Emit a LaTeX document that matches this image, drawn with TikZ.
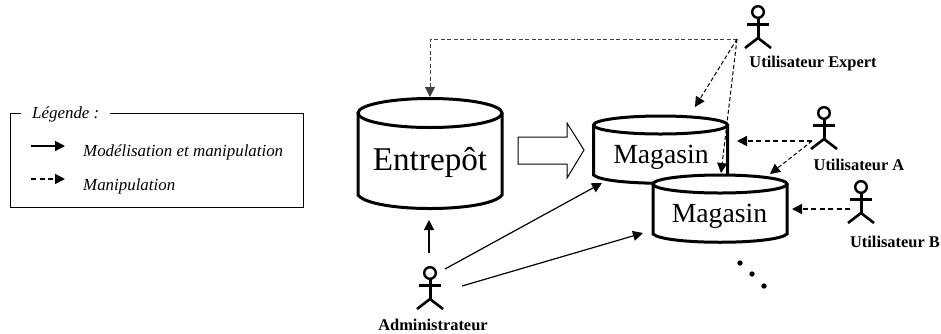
\documentclass[tikz,border=0pt]{standalone}
\usepackage{fontspec}
\setmainfont{Liberation Serif}
\usetikzlibrary{arrows.meta}

\tikzset{
    fleche/.style={line width=1.2pt, -{Triangle[length=10pt,width=10pt]}},
    pointille/.style={fleche, line width=1.6pt, dash pattern=on 5pt off 3.5pt},
    pointillefin/.style={fleche, line width=1pt, dash pattern=on 4pt off 2.5pt},
    acteurnom/.style={font=\fontsize{16.4}{19}\bfseries\selectfont, inner sep=0pt},
    legendetxt/.style={font=\fontsize{16.9}{19}\itshape\selectfont, inner sep=0pt, anchor=west},
    acteur/.pic={
        \draw[line width=2.4pt] (0,-12) circle (5.8);
        \draw[line width=3pt] (0,-6) -- (0,14);
        \draw[line width=3pt] (-11,0) -- (11,0);
        \draw[line width=2.6pt] (-13,24) -- (0,14) -- (13,24);
    },
    magasin/.pic={
        \draw[line width=3pt, fill=white] (-67,-24) -- (-67,26)
            .. controls (-55,37) and (55,37) .. (67,26) -- (67,-24);
        \draw[line width=3pt, fill=white] (0,-24) ellipse (67 and 9);
    }
}

\begin{document}
\begin{tikzpicture}[x=1pt,y=-1pt]
    \useasboundingbox (0,0) rectangle (941,333);

    \coordinate (Exp) at (737, 39);
    \coordinate (ExpCoude) at (430, 39);
    \coordinate (EntHaut) at (430, 97);
    \coordinate (M1Haut) at (695, 107);
    \coordinate (M2HautA) at (721, 173);
    \coordinate (A1) at (812, 141);
    \coordinate (M1Droite) at (737, 141);
    \coordinate (M2HautB) at (770, 174);
    \coordinate (B1) at (850, 209);
    \coordinate (M2Droite) at (792, 209);
    \coordinate (Adm1) at (429, 253);
    \coordinate (EntBas) at (429, 220);
    \coordinate (Adm2) at (445, 269);
    \coordinate (M1Bas) at (602, 183);
    \coordinate (Adm3) at (462, 286);
    \coordinate (M2Gauche) at (643, 233);
    \coordinate (L1) at (31, 146);
    \coordinate (L2) at (65, 146);
    \coordinate (L3) at (31, 179);
    \coordinate (L4) at (65, 179);

% legende
    \draw[line width=1pt] (10, 113) rectangle (303, 207);
    \node[legendetxt, fill=white, inner xsep=11pt, inner ysep=3pt] (leg) at (21, 114) {Légende :};
    \node[legendetxt] (modman) at (83, 152) {Modélisation et manipulation};
    \node[legendetxt] (man) at (83, 186) {Manipulation};
    \draw[fleche] (L1) -- (L2);
    \draw[pointille] (L3) -- (L4);

% entrepot
    \draw[line width=3pt] (358, 113) -- (358, 195)
        .. controls (372, 213) and (488, 213) .. (502, 195) -- (502, 113);
    \draw[line width=3pt] (430, 113) ellipse (72 and 14.5);
    \node[font=\fontsize{33.2}{38}\selectfont, inner sep=0pt] (entrepot) at (430, 162) {Entrepôt};

% magasins
    \pic at (660.5, 149) {magasin};
    \node[font=\fontsize{27.7}{32}\selectfont, inner sep=0pt] (mag1) at (661, 157) {Magasin};
    \pic at (720, 208) {magasin};
    \node[font=\fontsize{27.7}{32}\selectfont, inner sep=0pt] (mag2) at (719.5, 216) {Magasin};

% grosse fleche
    \draw[line width=1pt] (518, 137) -- (567, 137) -- (567, 123) -- (584, 150)
        -- (567, 178) -- (567, 164) -- (518, 164) -- cycle;

% acteurs
    \pic at (758, 24) {acteur};
    \pic at (824, 125) {acteur};
    \pic at (861, 199) {acteur};
    \pic at (430, 285) {acteur};
    \node[acteurnom] (expert) at (813, 64) {Utilisateur Expert};
    \node[acteurnom] (usera) at (859, 165) {Utilisateur A};
    \node[acteurnom, anchor=east] (userb) at (940, 242) {Utilisateur B};
    \node[acteurnom] (admin) at (433, 325) {Administrateur};

% fleches
    \draw[pointillefin, black!75] (Exp) -- (ExpCoude) -- (EntHaut);
    \draw[pointillefin] (Exp) -- (M1Haut);
    \draw[pointillefin] (Exp) -- (M2HautA);
    \draw[pointille] (A1) -- (M1Droite);
    \draw[pointillefin] (A1) -- (M2HautB);
    \draw[pointille] (B1) -- (M2Droite);
    \draw[fleche] (Adm1) -- (EntBas);
    \draw[fleche] (Adm2) -- (M1Bas);
    \draw[fleche] (Adm3) -- (M2Gauche);

% points
    \fill (740, 263) circle (2.7);
    \fill (752, 274) circle (2.7);
    \fill (764, 286) circle (2.7);
\end{tikzpicture}
\end{document}
